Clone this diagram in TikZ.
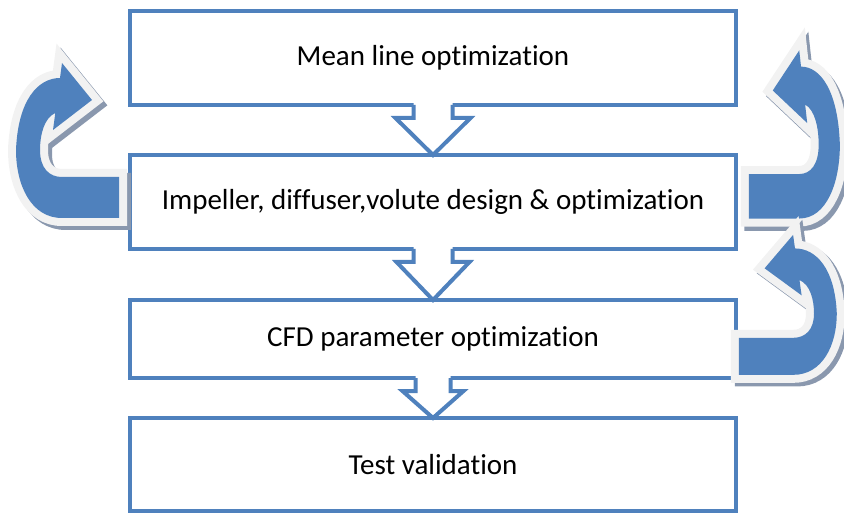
\documentclass[tikz,border=0pt]{standalone}
\usepackage{fontspec}
\setmainfont{Carlito}[Ligatures=NoCommon]
\usetikzlibrary{positioning}
\usetikzlibrary{calc}

\definecolor{officeblue}{HTML}{4F81BD}
\definecolor{rimgray}{HTML}{F2F2F2}
\definecolor{shadowgray}{HTML}{8A98AE}

\newcommand{\bendshape}{(119,177) -- (119,218) -- (62,218)
  .. controls (31,218) and (16,185) .. (16,150)
  .. controls (18,100) and (38,78) .. (60,78)
  -- (62,63) -- (92,100) -- (53,130) -- (55.3,113)
  .. controls (44,118) and (40,135) .. (40,150)
  .. controls (40,168) and (49,177) .. (62,177) -- cycle}

\newcommand{\bentarrow}[1]{%
  \path[fill=shadowgray, draw=shadowgray, line width=16pt, shift={(#1,4)}] \bendshape;
  \path[draw=rimgray, line width=16pt] \bendshape;
  \path[fill=officeblue] \bendshape;}

\newcommand{\hollowarrow}[4]{%
  \fill[white] ($(#1.south)+(-#3,-3)$) -- ($(#1.south)+(#3,-3)$) -- ($(#1.south)+(#3,13)$)
    -- ($(#1.south)+(#4,13)$) -- ($(#2.north)+(0,-4)$) -- ($(#1.south)+(-#4,13)$)
    -- ($(#1.south)+(-#3,13)$) -- cycle;
  \draw[flowline] ($(#1.south)+(-#3,0)$) -- ($(#1.south)+(-#3,13)$) -- ($(#1.south)+(-#4,13)$)
    -- (#2.north) -- ($(#1.south)+(#4,13)$) -- ($(#1.south)+(#3,13)$) -- ($(#1.south)+(#3,0)$);}

\begin{document}
\begin{tikzpicture}[
  x=1pt, y=-1pt,
  stagebox/.style={rectangle, draw=officeblue, fill=white, line width=4pt,
    minimum width=606pt, inner sep=0pt, outer sep=0pt,
    font=\fontsize{29}{34}\selectfont},
  flowline/.style={draw=officeblue, line width=4pt}
]
\useasboundingbox (0,0) rectangle (844,513);

\node[stagebox, minimum height=94pt] (mean) at (433,58) {Mean line optimization};
\node[stagebox, minimum height=94pt, below=50pt of mean] (design) {Impeller, diffuser,volute design \& optimization};
\node[stagebox, minimum height=78pt, below=51pt of design] (cfd) {CFD parameter optimization};
\node[stagebox, minimum height=93pt, below=40pt of cfd] (test) {Test validation};

\hollowarrow{mean}{design}{19.5}{37.5}
\hollowarrow{design}{cfd}{19.5}{36.5}
\hollowarrow{cfd}{test}{17.5}{30.5}

\bentarrow{4}
\begin{scope}[shift={(854,-18)}, xscale=-0.883, yscale=1.085]
  \bentarrow{-4}
\end{scope}
\begin{scope}[shift={(852,178)}, xscale=-0.95, yscale=0.903]
  \bentarrow{-4}
\end{scope}
\end{tikzpicture}
\end{document}
